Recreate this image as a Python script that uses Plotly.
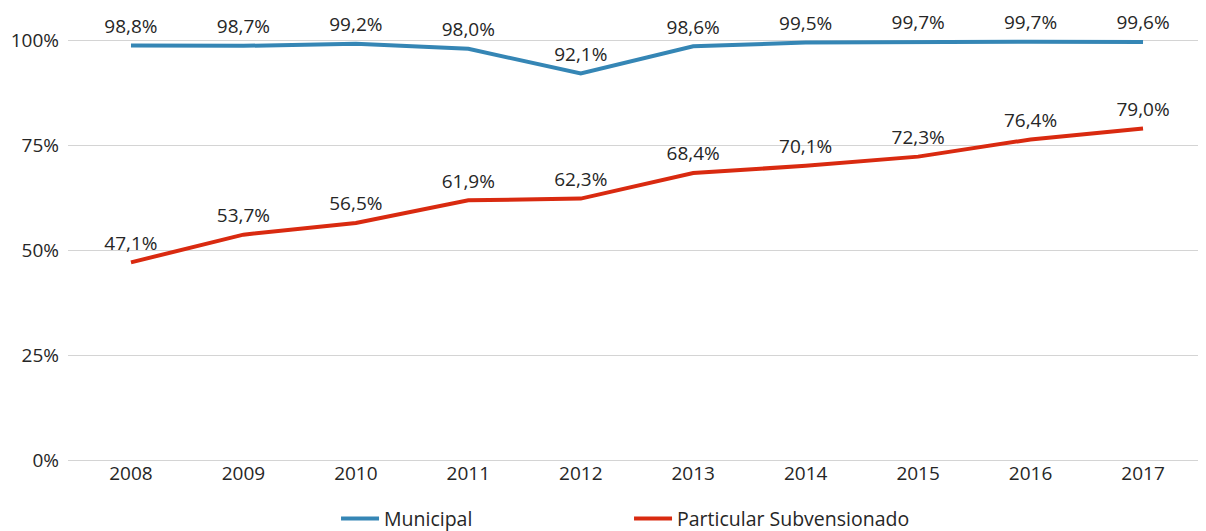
import plotly.graph_objects as go

years = ["2008", "2009", "2010", "2011", "2012", "2013", "2014", "2015", "2016", "2017"]
municipal = [98.8, 98.7, 99.2, 98.0, 92.1, 98.6, 99.5, 99.7, 99.7, 99.6]
particular = [47.1, 53.7, 56.5, 61.9, 62.3, 68.4, 70.1, 72.3, 76.4, 79.0]
y_ticks = [0, 25, 50, 75, 100]

def fmt(v):
    return f"{v:.1f}".replace(".", ",") + "%"

FONT = "Open Sans, Noto Sans, sans-serif"
TXT = "#262626"
FS = 19
HIDDEN = dict(size=11, color="rgba(0,0,0,0)")

fig = go.Figure()
fig.add_trace(go.Scatter(
    x=years, y=municipal, name="Municipal", mode="lines+markers+text",
    line=dict(color="#3586b5", width=4), marker=HIDDEN,
    text=[fmt(v) for v in municipal], textposition="top center",
    textfont=dict(family=FONT, size=FS, color=TXT), cliponaxis=False,
))
fig.add_trace(go.Scatter(
    x=years, y=particular, name="Particular Subvensionado", mode="lines+markers+text",
    line=dict(color="#d92a10", width=4), marker=HIDDEN,
    text=[fmt(v) for v in particular], textposition="top center",
    textfont=dict(family=FONT, size=FS, color=TXT), cliponaxis=False,
))

fig.update_layout(
    width=1198, height=531,
    margin=dict(l=60, r=0, t=24, b=79),
    paper_bgcolor="white", plot_bgcolor="white",
    font=dict(family=FONT, size=FS, color=TXT),
    showlegend=True,
    legend=dict(orientation="h", x=0.493, xanchor="center", y=-0.092, yanchor="top",
                entrywidth=240, entrywidthmode="pixels", itemwidth=38,
                font=dict(family=FONT, size=19.5, color=TXT)),
)
fig.update_xaxes(type="category", range=[-0.56, 9.56], showgrid=False, showline=False,
                 ticks="", tickfont=dict(family=FONT, size=FS, color=TXT))
fig.update_yaxes(range=[0, 102], tickvals=y_ticks, ticktext=[f"{v}%" for v in y_ticks],
                 showgrid=True, gridcolor="#d4d4d4", gridwidth=1,
                 zeroline=True, zerolinecolor="#d4d4d4", zerolinewidth=1,
                 showline=False, ticks="", ticklabelstandoff=8,
                 tickfont=dict(family=FONT, size=FS, color=TXT))

fig.write_html("out.html")
